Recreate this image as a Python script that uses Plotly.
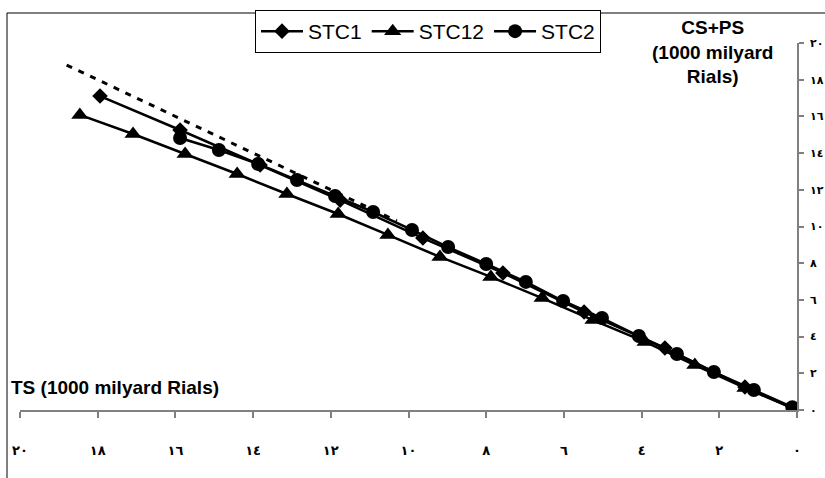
import plotly.graph_objects as go

# ---- data ----
stc1_x = [17.94, 15.88, 13.82, 11.76, 9.63, 7.57, 5.48, 3.40, 1.34, 0.0]
stc1_y = [17.11, 15.26, 13.35, 11.44, 9.37, 7.47, 5.34, 3.38, 1.25, 0.0]

stc12_x = [18.46, 17.09, 15.75, 14.41, 13.13, 11.81, 10.53, 9.19, 7.88, 6.56,
           5.25, 3.91, 2.63, 1.34, 0.0]
stc12_y = [16.08, 15.04, 13.95, 12.86, 11.77, 10.68, 9.54, 8.34, 7.25, 6.10,
           4.90, 3.71, 2.45, 1.20, 0.0]

stc2_x = [15.88, 14.88, 13.87, 12.87, 11.89, 10.91, 9.91, 8.98, 8.00, 6.98,
          6.02, 5.02, 4.07, 3.09, 2.14, 1.11, 0.12]
stc2_y = [14.82, 14.17, 13.41, 12.53, 11.66, 10.79, 9.81, 8.88, 7.96, 6.98,
          5.94, 5.01, 4.03, 3.05, 2.07, 1.09, 0.15]

ref_x = [18.8, 10.3]
ref_y = [18.8, 10.3]

tick_vals = [0, 2, 4, 6, 8, 10, 12, 14, 16, 18, 20]
tick_text = ["٠", "٢", "٤", "٦", "٨", "١٠", "١٢", "١٤", "١٦", "١٨", "٢٠"]

x_title = "TS (1000 milyard Rials)"
y_title = "CS+PS<br>(1000 milyard<br>Rials)"

# ---- figure ----
fig = go.Figure()
fig.add_trace(go.Scatter(x=ref_x, y=ref_y, mode="lines", showlegend=False,
                         line=dict(color="black", width=3, dash="6px,7px")))
fig.add_trace(go.Scatter(x=stc1_x, y=stc1_y, mode="lines+markers", name="STC1",
                         line=dict(color="black", width=2.5),
                         marker=dict(symbol="diamond", size=12, color="black")))
fig.add_trace(go.Scatter(x=stc12_x, y=stc12_y, mode="lines+markers", name="STC12",
                         line=dict(color="black", width=2.5),
                         marker=dict(symbol="triangle-up", size=15, color="black")))
fig.add_trace(go.Scatter(x=stc2_x, y=stc2_y, mode="lines+markers", name="STC2",
                         line=dict(color="black", width=2.5),
                         marker=dict(symbol="circle", size=14, color="black")))

W, H = 825, 478
L, R, T, B = 20, 28, 43, 68
pw, ph = W - L - R, H - T - B

def px_to_paper_x(px):
    return (px - L) / pw

def py_to_paper_y(py):
    return (H - B - py) / ph

tick_font = dict(family="DejaVu Sans", size=13, color="black", weight="bold")
ytick_font = dict(family="DejaVu Sans", size=11, color="black", weight="bold")

fig.update_layout(
    width=W, height=H, autosize=False,
    margin=dict(l=L, r=R, t=T, b=B, pad=0, autoexpand=False),
    paper_bgcolor="white", plot_bgcolor="white",
    font=dict(family="Liberation Sans, Arial, sans-serif", color="black"),
    showlegend=True,
    legend=dict(orientation="h", x=px_to_paper_x(255), y=py_to_paper_y(10),
                xanchor="left", yanchor="top",
                bordercolor="black", borderwidth=1, bgcolor="white",
                font=dict(size=21, family="Liberation Sans, Arial, sans-serif"),
                tracegroupgap=0, itemwidth=42),
    xaxis=dict(range=[20, 0], tickvals=tick_vals, ticktext=tick_text,
               automargin=False,
               showgrid=False, zeroline=False, showline=True,
               linecolor="#808080", linewidth=1.5,
               ticks="outside", ticklen=6, tickcolor="#808080", tickwidth=1.5,
               ticklabelstandoff=22, tickfont=tick_font),
    yaxis=dict(range=[0, 20], tickvals=tick_vals, ticktext=tick_text,
               automargin=False, side="right",
               showgrid=False, zeroline=False, showline=True,
               linecolor="#808080", linewidth=1.5,
               ticks="outside", ticklen=5, tickcolor="#808080", tickwidth=1.5,
               ticklabelstandoff=4, tickfont=ytick_font),
    annotations=[
        dict(text="<b>" + y_title + "</b>", xref="paper", yref="paper",
             x=px_to_paper_x(712), y=py_to_paper_y(52), xanchor="center",
             yanchor="middle", showarrow=False, align="center",
             font=dict(size=19, family="Liberation Sans, Arial, sans-serif")),
        dict(text="<b>" + x_title + "</b>", xref="paper", yref="paper",
             x=px_to_paper_x(9), y=py_to_paper_y(387), xanchor="left",
             yanchor="middle", showarrow=False,
             font=dict(size=19, family="Liberation Sans, Arial, sans-serif")),
    ],
    shapes=[
        dict(type="rect", xref="paper", yref="paper",
             x0=px_to_paper_x(7), x1=px_to_paper_x(840),
             y0=py_to_paper_y(490), y1=py_to_paper_y(13),
             line=dict(color="black", width=1), fillcolor="rgba(0,0,0,0)",
             layer="below"),
    ],
)

fig.write_html(
    "out.html",
    config={"displayModeBar": False, "responsive": False},
    post_script="document.body.style.margin='0';document.body.style.overflow='hidden';",
)
